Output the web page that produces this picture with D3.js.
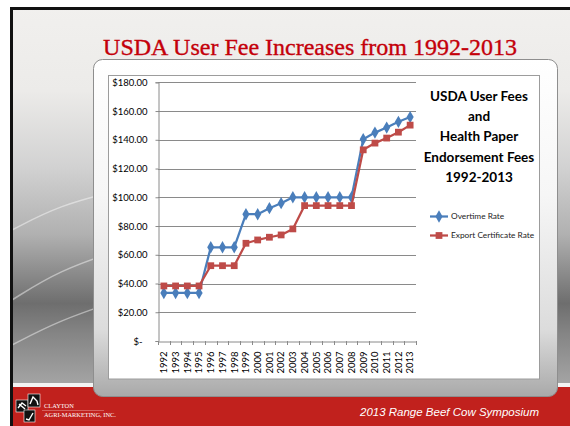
<!DOCTYPE html>
<html>
<head>
<meta charset="utf-8">
<script src="https://cdn.jsdelivr.net/npm/d3@7"></script>
<style>
  body { margin: 0; background: #fff; }
  svg { display: block; }
</style>
</head>
<body>
<svg id="chart"></svg>
<script>
// values
var years = ["1992","1993","1994","1995","1996","1997","1998","1999","2000","2001","2002",
             "2003","2004","2005","2006","2007","2008","2009","2010","2011","2012","2013"];
var overtimeRate = [33.4,33.4,33.4,33.4,65.2,65.2,65.2,88.2,88.2,92.4,95.9,
                    100,100,100,100,100,100,140.4,145,148.5,152.5,155.8];
var exportCertRate = [38.3,38.3,38.3,38.3,52.4,52.4,52.4,68,70.3,72.2,73.8,
                      78,94.2,94.2,94.2,94.2,94.2,133,137.7,141.2,145.3,150.2];
var yTicks = [0,20,40,60,80,100,120,140,160,180];
var seriesNames = ["Overtime Rate","Export Certificate Rate"];
var chartTitle = ["USDA User Fees","and","Health Paper","Endorsement Fees","1992-2013"];
var slideTitle = "USDA User Fee Increases from 1992-2013";
var footerText = "2013 Range Beef Cow Symposium";

var W = 570, H = 426;
var svg = d3.select("#chart").attr("width", W).attr("height", H);
var defs = svg.append("defs");

// slide background
var bg = defs.append("linearGradient").attr("id","bg").attr("x1",0).attr("y1",0).attr("x2",0).attr("y2",1);
[[0,"#f1f0ee"],[0.22,"#ecebe9"],[0.42,"#d2d2d2"],[0.6,"#b0b0b0"],[0.78,"#6e6e6e"],[0.86,"#858585"],[1,"#a6a6a6"]]
  .forEach(function(s){ bg.append("stop").attr("offset",s[0]).attr("stop-color",s[1]); });

var fr = defs.append("linearGradient").attr("id","frame").attr("x1",0).attr("y1",0).attr("x2",0).attr("y2",1);
[[0,"#ffffff"],[0.4,"#f6f6f6"],[0.8,"#dcdcdc"],[1,"#a9a9a9"]]
  .forEach(function(s){ fr.append("stop").attr("offset",s[0]).attr("stop-color",s[1]); });

svg.append("rect").attr("x",10).attr("y",7).attr("width",W-10).attr("height",380).attr("fill","url(#bg)");

// light swooshes
var sw = d3.line().curve(d3.curveBasis);
[[[12,230],[60,205],[120,190]],[[12,300],[60,270],[120,250]],[[12,345],[60,320],[120,300]]].forEach(function(p){
  svg.append("path").attr("d", sw(p)).attr("fill","none").attr("stroke","#ffffff").attr("stroke-opacity",0.45).attr("stroke-width",1.5);
});

// footer
svg.append("rect").attr("x",10).attr("y",383).attr("width",W-10).attr("height",4).attr("fill","#f3f3f3");
svg.append("rect").attr("x",10).attr("y",387).attr("width",W-10).attr("height",H-387).attr("fill","#c1211d");

// black slide border
svg.append("rect").attr("x",10).attr("y",7).attr("width",W-10).attr("height",3).attr("fill","#111");
svg.append("rect").attr("x",10).attr("y",7).attr("width",3).attr("height",H-7).attr("fill","#111");

// title
svg.append("text").attr("x",310).attr("y",55).attr("text-anchor","middle")
  .attr("font-family","'Liberation Serif', 'DejaVu Serif', serif").attr("font-size",24)
  .attr("fill","#c4000a").attr("stroke","#c4000a").attr("stroke-width",0.35).text(slideTitle);

// chart frame
svg.append("rect").attr("x",93.5).attr("y",59.5).attr("width",464).attr("height",337).attr("rx",9)
  .attr("fill","url(#frame)").attr("stroke","#8e8e8e").attr("stroke-width",1);
svg.append("rect").attr("x",108.5).attr("y",75.5).attr("width",431).attr("height",303.5)
  .attr("fill","#fff").attr("stroke","#9c9c9c").attr("stroke-width",1);

// scales
var x = d3.scaleBand().domain(years).range([158,416]);
var y = d3.scaleLinear().domain([0,180]).range([341,82.3]);
var font = "Lato, 'Open Sans', sans-serif";

var g = svg.append("g");

// gridlines
g.selectAll(".grid").data(yTicks.slice(1)).enter().append("line")
  .attr("x1",158).attr("x2",416)
  .attr("y1",function(d){ return Math.round(y(d))+0.5; })
  .attr("y2",function(d){ return Math.round(y(d))+0.5; })
  .attr("stroke","#8a8a8a").attr("stroke-width",1);

// y axis
var yAxis = g.append("g").attr("transform","translate(158.5,0)")
  .call(d3.axisLeft(y).tickValues(yTicks).tickSize(3).tickPadding(8)
    .tickFormat(function(d){ return d === 0 ? "$-  " : "$" + d.toFixed(2); }));
yAxis.selectAll("path,line").attr("stroke","#8a8a8a");
yAxis.selectAll("text").attr("font-family",font).attr("font-size",9.5).attr("fill","#000")
  .attr("xml:space","preserve").style("white-space","pre");

// x axis
var xAxis = g.append("g").attr("transform","translate(0,341.5)")
  .call(d3.axisBottom(x).tickSize(0).tickPadding(0));
xAxis.select(".domain").attr("stroke","#8a8a8a");
xAxis.selectAll("text")
  .attr("transform","rotate(-90)").attr("text-anchor","end")
  .attr("x",-10).attr("y",0).attr("dy","0.35em")
  .attr("font-family",font).attr("font-size",9.5).attr("fill","#000");
var bounds = years.map(function(d){ return x(d); }).concat([x.range()[1]]);
g.selectAll(".xtick").data(bounds).enter().append("line")
  .attr("x1",function(d){ return Math.round(d)+0.5; }).attr("x2",function(d){ return Math.round(d)+0.5; })
  .attr("y1",341).attr("y2",345).attr("stroke","#8a8a8a");

// series
var colors = ["#4a7ebb","#be4b48"];
var allSeries = [overtimeRate, exportCertRate];
var line = d3.line()
  .x(function(d,i){ return x(years[i]) + x.bandwidth()/2; })
  .y(function(d){ return y(d); });
var diamond = d3.symbol().type(d3.symbolDiamond).size(44);
var square = d3.symbol().type(d3.symbolSquare).size(46);

allSeries.forEach(function(s, k){
  g.append("path").datum(s).attr("d",line).attr("fill","none")
    .attr("stroke",colors[k]).attr("stroke-width",2.25).attr("stroke-linejoin","round");
  g.selectAll(".m"+k).data(s).enter().append("path")
    .attr("transform",function(d,i){ return "translate(" + (x(years[i]) + x.bandwidth()/2) + "," + y(d) + ")"; })
    .attr("d", k === 0 ? diamond : square).attr("fill",colors[k]);
});

// chart title
svg.append("g").selectAll("text").data(chartTitle).enter().append("text")
  .attr("x",479).attr("y",function(d,i){ return 101 + i*20.2; })
  .attr("text-anchor","middle").attr("font-family",font).attr("font-weight","bold")
  .attr("font-size",13.5).attr("fill","#000").text(function(d){ return d; });

// legend
var leg = svg.append("g").selectAll("g").data(seriesNames).enter().append("g")
  .attr("transform",function(d,i){ return "translate(430," + (216.5 + i*19) + ")"; });
leg.append("line").attr("x1",0).attr("x2",18).attr("stroke",function(d,i){ return colors[i]; }).attr("stroke-width",2.25);
leg.append("path").attr("transform","translate(9,0)")
  .attr("d",function(d,i){ return i === 0 ? diamond() : square(); })
  .attr("fill",function(d,i){ return colors[i]; });
leg.append("text").attr("x",21).attr("dy","0.35em").attr("font-family",font).attr("font-size",8.3)
  .attr("fill","#222").text(function(d){ return d; });

// footer text
svg.append("text").attr("x",539).attr("y",416).attr("text-anchor","end")
  .attr("font-family","'Liberation Sans', Arial, sans-serif").attr("font-style","italic")
  .attr("font-size",11.5).attr("fill","#fff").text(footerText);

// logo
var logo = svg.append("g");
[[16,400,12,12],[28,394,12,13],[24,410,11,12]].forEach(function(r){
  logo.append("rect").attr("x",r[0]).attr("y",r[1]).attr("width",r[2]).attr("height",r[3]).attr("fill","#111")
    .attr("stroke","#fff").attr("stroke-width",0.6);
});
logo.append("path").attr("d","M18,408 L22,403 L26,406 M19,404 L25,409").attr("stroke","#fff").attr("stroke-width",1.4).attr("fill","none");
logo.append("path").attr("d","M30,404 L33,397 L37,401 L38,405").attr("stroke","#fff").attr("stroke-width",1.4).attr("fill","none");
logo.append("path").attr("d","M26,419 L29,420 L33,413").attr("stroke","#fff").attr("stroke-width",1.4).attr("fill","none");
logo.append("line").attr("x1",42).attr("x2",104).attr("y1",410.5).attr("y2",410.5).attr("stroke","#e8a0a0").attr("stroke-width",0.5);
logo.append("text").attr("x",44).attr("y",408).attr("font-family","'Liberation Serif', serif")
  .attr("font-size",6.4).attr("fill","#fff").text("CLAYTON");
logo.append("text").attr("x",44).attr("y",417).attr("font-family","'Liberation Serif', serif")
  .attr("font-size",6.4).attr("fill","#fff").text("AGRI-MARKETING, INC.");
</script>
</body>
</html>
